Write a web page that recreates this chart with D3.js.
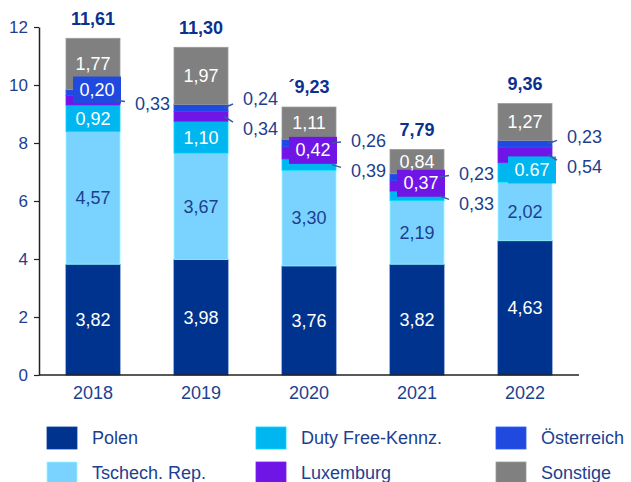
<!DOCTYPE html>
<html><head><meta charset="utf-8">
<script src="https://cdn.jsdelivr.net/npm/d3@7"></script>
<style>body{margin:0;background:#fff}svg{display:block;font-family:"Liberation Sans",Arial,sans-serif}</style>
</head><body><svg id="c" width="631" height="482"></svg>
<script>
const years = ["2018","2019","2020","2021","2022"];
const seriesNames = ["Polen","Tschech. Rep.","Duty Free-Kennz.","Luxemburg","Österreich","Sonstige"];
const polen = [3.82,3.98,3.76,3.82,4.63];
const tschech = [4.57,3.67,3.30,2.19,2.02];
const dutyFree = [0.92,1.10,0.39,0.33,0.67];
const luxemburg = [0.33,0.34,0.42,0.37,0.54];
const oesterreich = [0.20,0.24,0.26,0.23,0.23];
const sonstige = [1.77,1.97,1.11,0.84,1.27];
const totalLabels = ["11,61","11,30","´9,23","7,79","9,36"];
const yTicks = [0,2,4,6,8,10,12];
const calloutSeries = [["Luxemburg"],["Österreich","Luxemburg"],["Österreich","Duty Free-Kennz."],["Österreich","Duty Free-Kennz."],["Österreich","Luxemburg"]];
const boxedSeries = ["Österreich","","Luxemburg","Luxemburg","Duty Free-Kennz."];
const periodLabel = {year:"2022", series:"Duty Free-Kennz."};

const colors = {"Polen":"#00338d","Tschech. Rep.":"#7ad3ff","Duty Free-Kennz.":"#00b6f0","Luxemburg":"#6f16e6","Österreich":"#2049e0","Sonstige":"#808080"};
const textColor = "#1d3f8f";
const seriesValues = [polen,tschech,dutyFree,luxemburg,oesterreich,sonstige];

const rows = years.map((yr,i)=>{const o={year:yr}; seriesNames.forEach((s,j)=>o[s]=seriesValues[j][i]); return o;});
const stack = d3.stack().keys(seriesNames)(rows);

const svg = d3.select("#c");
const x = d3.scaleBand(years,[39,579]).paddingInner(0.5).paddingOuter(0.25);
const y = d3.scaleLinear([0,12],[375,27]);

// bars
stack.forEach(layer=>{
  svg.append("g").selectAll("rect").data(layer).join("rect")
    .attr("x",d=>x(d.data.year)).attr("width",x.bandwidth())
    .attr("y",d=>y(d[1])).attr("height",d=>y(d[0])-y(d[1]))
    .attr("fill",colors[layer.key])
    .attr("stroke",d3.color(colors[layer.key]).brighter(0.5)).attr("stroke-width",0.8);
});

// y axis
const ya = svg.append("g").attr("transform","translate(39,0)")
  .call(d3.axisLeft(y).tickValues(yTicks).tickSize(5).tickSizeOuter(0).tickPadding(6).tickFormat(d3.format("d")));
ya.select(".domain").attr("stroke","#222").attr("stroke-width",1.5);
ya.selectAll(".tick line").attr("stroke","#222").attr("stroke-width",1.2);
ya.selectAll(".tick text").attr("fill",textColor).attr("font-size",17).attr("font-family","Liberation Sans, Arial");

// x axis
const xa = svg.append("g").attr("transform","translate(0,375)")
  .call(d3.axisBottom(x).tickSize(0).tickPadding(11));
xa.select(".domain").attr("d","M39,0H579").attr("stroke","#222").attr("stroke-width",1.5);
xa.selectAll(".tick text").attr("fill",textColor).attr("font-size",18).attr("font-family","Liberation Sans, Arial");

const fmt = (v,yr,s)=>{const t=d3.format(".2f")(v); return (yr===periodLabel.year&&s===periodLabel.series)?t:t.replace(".",",");};

// labels
const lbl = svg.append("g");
stack.forEach(layer=>{
  const s = layer.key;
  layer.forEach((d,i)=>{
    const yr = d.data.year;
    if (calloutSeries[i].includes(s)) return;
    const cx = x(yr)+x.bandwidth()/2;
    const mid = (y(d[0])+y(d[1]))/2;
    const txt = fmt(d[1]-d[0],yr,s);
    if (boxedSeries[i]===s){
      const off = i===4 ? 7 : 4;
      lbl.append("rect").attr("x",cx+off-24).attr("y",mid-3-13).attr("width",48).attr("height",27).attr("fill",colors[s]);
      lbl.append("text").attr("x",cx+off).attr("y",mid-3).attr("dy","0.35em").attr("text-anchor","middle")
        .attr("fill","#fff").attr("font-size",18).text(txt);
    } else {
      lbl.append("text").attr("x",cx).attr("y",mid).attr("dy","0.35em").attr("text-anchor","middle")
        .attr("fill",s==="Tschech. Rep."?textColor:"#fff").attr("font-size",18).text(txt);
    }
  });
});

// callouts
years.forEach((yr,i)=>{
  const segs = calloutSeries[i].map(s=>{const d=stack[seriesNames.indexOf(s)][i]; return {s,d,mid:(y(d[0])+y(d[1]))/2};})
    .sort((a,b)=>a.mid-b.mid);
  const right = x(yr)+x.bandwidth();
  let ys;
  if (segs.length===1) ys=[segs[0].mid+3];
  else {const c=(segs[0].mid+segs[1].mid)/2+2; ys=[c-15,c+15];}
  segs.forEach((g,k)=>{
    const ly = ys[k];
    lbl.append("line").attr("x1",right-4).attr("y1",g.mid).attr("x2",right+5).attr("y2",g.mid+(ly-g.mid)*0.45)
      .attr("stroke","#3a5a9a").attr("stroke-width",1.5);
    lbl.append("text").attr("x",right+15).attr("y",ly).attr("dy","0.35em").attr("fill",textColor)
      .attr("font-size",18).text(fmt(g.d[1]-g.d[0],yr,g.s));
  });
});

// totals
years.forEach((yr,i)=>{
  const top = d3.sum(seriesValues,v=>v[i]);
  svg.append("text").attr("x",x(yr)+x.bandwidth()/2).attr("y",y(top)-20).attr("dy","0.35em")
    .attr("text-anchor","middle").attr("font-weight","bold").attr("font-size",18).attr("fill","#0b318f").text(totalLabels[i]);
});

// legend
const colX = [47,256,496];
const order = [["Polen","Tschech. Rep."],["Duty Free-Kennz.","Luxemburg"],["Österreich","Sonstige"]];
order.forEach((col,ci)=>{
  col.forEach((s,ri)=>{
    const g = svg.append("g").attr("transform",`translate(${colX[ci]},${427+ri*35})`);
    g.append("rect").attr("width",30).attr("height",22).attr("fill",colors[s]).attr("stroke",d3.color(colors[s]).brighter(0.5)).attr("stroke-width",0.8);
    g.append("text").attr("x",45).attr("y",11).attr("dy","0.35em").attr("fill",textColor).attr("font-size",18).text(s);
  });
});
</script></body></html>
